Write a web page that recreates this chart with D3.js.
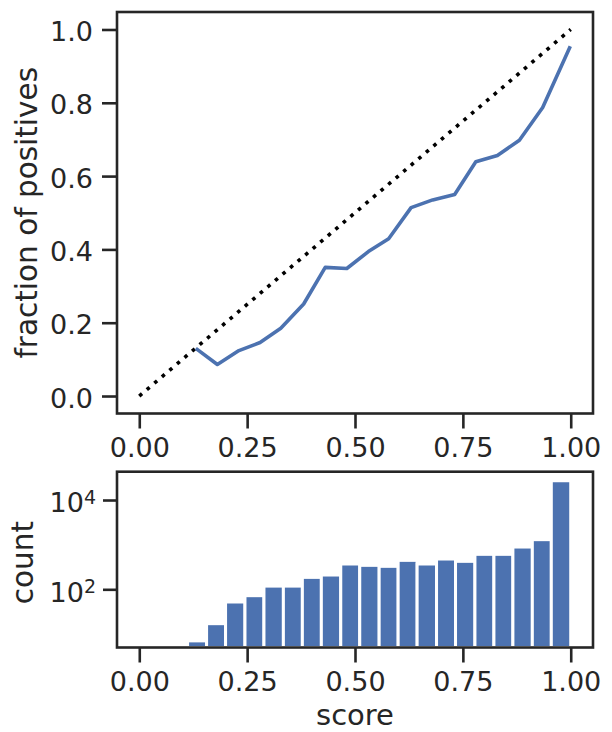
<!DOCTYPE html>
<html>
<head>
<meta charset="utf-8">
<script src="https://cdn.jsdelivr.net/npm/d3@7"></script>
<style>
  html, body { margin: 0; padding: 0; background: #fff; }
  svg { display: block; font-family: "DejaVu Sans", sans-serif; }
</style>
</head>
<body>
<svg id="chart" width="612" height="732"></svg>
<script>
// ---- data ----
const calibX = [0.131, 0.181, 0.231, 0.280, 0.328, 0.381, 0.431, 0.481, 0.531, 0.578,
                0.630, 0.680, 0.731, 0.780, 0.830, 0.881, 0.935, 0.999];
const calibY = [0.130, 0.086, 0.124, 0.146, 0.185, 0.251, 0.351, 0.348, 0.394, 0.429,
                0.514, 0.535, 0.550, 0.639, 0.656, 0.698, 0.787, 0.954];
const diagX = [0, 1];
const diagY = [0, 1];
const binEdges = [0.112, 0.156, 0.200, 0.245, 0.289, 0.334, 0.378, 0.422, 0.467, 0.511,
                  0.556, 0.600, 0.644, 0.689, 0.733, 0.778, 0.822, 0.866, 0.911, 0.955, 1.000];
const counts = [7, 17, 52, 72, 118, 118, 185, 209, 369, 344,
                327, 445, 369, 477, 423, 607, 607, 885, 1294, 27000];
const xTicks = [0, 0.25, 0.5, 0.75, 1.0];
const yTicksTop = [0, 0.2, 0.4, 0.6, 0.8, 1.0];
const yTicksBottom = [100, 10000];
const xLabel = "score";
const yLabelTop = "fraction of positives";
const yLabelBottom = "count";

// ---- style ----
const ink = "#262626";
const blue = "#4C72B0";
const tickFont = 27;
const labelFont = 29.5;

const svg = d3.select("#chart");

const L = 117, R = 593;
const top1 = 12, bot1 = 413.5;
const top2 = 471.7, bot2 = 647.5;

const x = d3.scaleLinear().domain([-0.05, 1.05]).range([117.7, 592.3]);
const y1 = d3.scaleLinear().domain([-0.0477, 1.0477]).range([bot1, top1]);
const y2 = d3.scaleLog().domain([Math.pow(10, 0.697), Math.pow(10, 4.634)]).range([bot2, top2]);

function styleAxis(g) {
  g.select(".domain").remove();
  g.selectAll(".tick line").attr("stroke", ink).attr("stroke-width", 2.6);
  g.selectAll(".tick text").attr("fill", ink).attr("font-size", tickFont)
    .attr("font-family", "DejaVu Sans");
}

// ---------- top panel ----------
const gTop = svg.append("g");
gTop.append("path")
  .datum(d3.range(diagX.length))
  .attr("fill", "none").attr("stroke", "#000").attr("stroke-width", 3.6)
  .attr("stroke-dasharray", "3.6,6.3")
  .attr("d", d3.line().x(i => x(diagX[i])).y(i => y1(diagY[i])));

gTop.append("path")
  .datum(d3.range(calibX.length))
  .attr("fill", "none").attr("stroke", blue).attr("stroke-width", 3.6)
  .attr("stroke-linejoin", "round")
  .attr("d", d3.line().x(i => x(calibX[i])).y(i => y1(calibY[i])));

const xAxTop = gTop.append("g").attr("transform", `translate(0,${bot1})`)
  .call(d3.axisBottom(x).tickValues(xTicks).tickSize(15).tickPadding(0)
        .tickFormat(d3.format(".2f")));
styleAxis(xAxTop);
xAxTop.selectAll(".tick text").attr("dy", null).attr("y", 43).attr("dominant-baseline", "alphabetic");

const yAxTop = gTop.append("g").attr("transform", `translate(${L},0)`)
  .call(d3.axisLeft(y1).tickValues(yTicksTop).tickSize(15).tickPadding(0)
        .tickFormat(d3.format(".1f")));
styleAxis(yAxTop);
yAxTop.selectAll(".tick text").attr("dy", null).attr("x", -24).attr("y", 11.2)
  .attr("dominant-baseline", "alphabetic").attr("text-anchor", "end");

gTop.append("rect").attr("x", L).attr("y", top1).attr("width", R - L).attr("height", bot1 - top1)
  .attr("fill", "none").attr("stroke", ink).attr("stroke-width", 2.6);

svg.append("text")
  .attr("transform", `translate(36.5,${(top1 + bot1) / 2}) rotate(-90)`)
  .attr("text-anchor", "middle").attr("font-size", labelFont).attr("fill", ink)
  .text(yLabelTop);

// ---------- bottom panel ----------
const gBot = svg.append("g");
gBot.selectAll("rect.bar")
  .data(counts)
  .enter().append("rect").attr("class", "bar")
  .attr("x", (d, i) => x(binEdges[i]))
  .attr("width", (d, i) => x(binEdges[i + 1]) - x(binEdges[i]))
  .attr("y", d => y2(d))
  .attr("height", d => bot2 - y2(d))
  .attr("fill", blue).attr("stroke", "#fff").attr("stroke-width", 3);

const xAxBot = gBot.append("g").attr("transform", `translate(0,${bot2})`)
  .call(d3.axisBottom(x).tickValues(xTicks).tickSize(15).tickPadding(0)
        .tickFormat(d3.format(".2f")));
styleAxis(xAxBot);
xAxBot.selectAll(".tick text").attr("dy", null).attr("y", 43).attr("dominant-baseline", "alphabetic");

const yAxBot = gBot.append("g").attr("transform", `translate(${L},0)`)
  .call(d3.axisLeft(y2).tickValues(yTicksBottom).tickSize(14).tickFormat(() => ""));
styleAxis(yAxBot);
yAxBot.selectAll(".tick text").remove();
yAxBot.selectAll(".tick").append("text")
  .attr("x", -21).attr("y", 11.7).attr("text-anchor", "end")
  .attr("fill", ink).attr("font-size", tickFont).attr("font-family", "DejaVu Sans")
  .each(function(d) {
    const t = d3.select(this);
    t.append("tspan").text("10");
    t.append("tspan").attr("font-size", 19).attr("dy", -8.4).text(String(Math.round(Math.log10(d))));
  });

gBot.append("rect").attr("x", L).attr("y", top2).attr("width", R - L).attr("height", bot2 - top2)
  .attr("fill", "none").attr("stroke", ink).attr("stroke-width", 2.6);

svg.append("text")
  .attr("transform", `translate(33.3,${(top2 + bot2) / 2 + 3}) rotate(-90)`)
  .attr("text-anchor", "middle").attr("font-size", labelFont).attr("fill", ink)
  .text(yLabelBottom);

svg.append("text")
  .attr("x", (x(0) + x(1)) / 2).attr("y", 725)
  .attr("text-anchor", "middle").attr("font-size", 29).attr("fill", ink)
  .text(xLabel);
</script>
</body>
</html>
